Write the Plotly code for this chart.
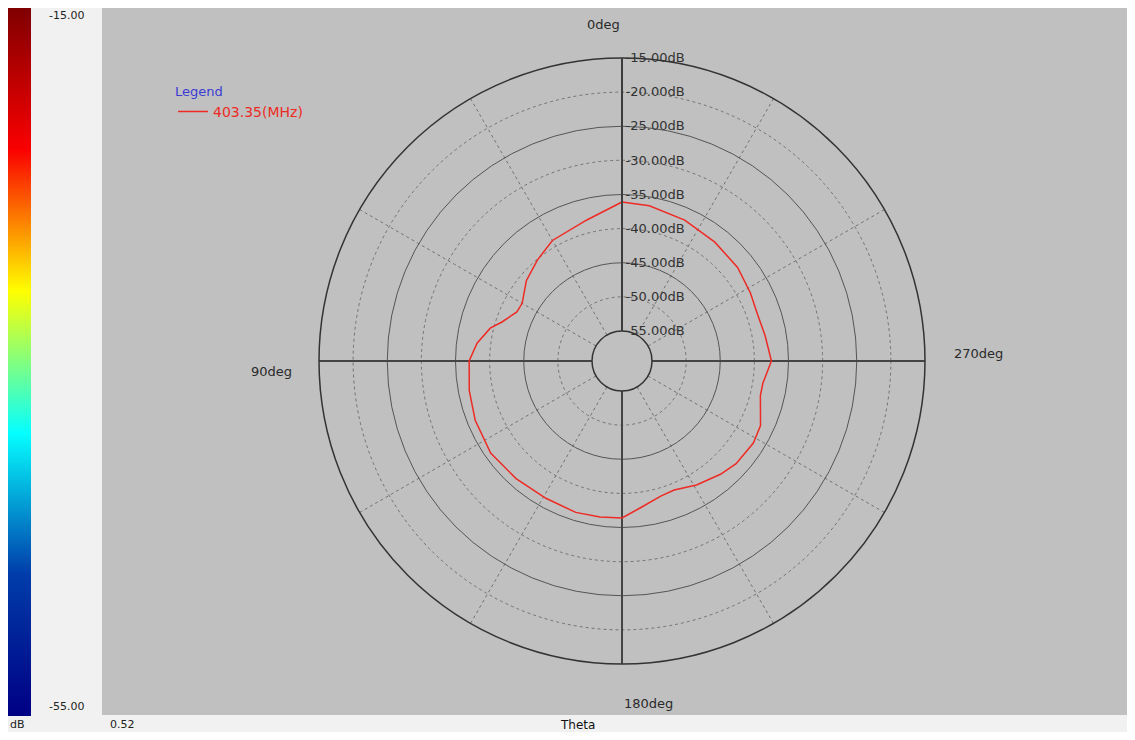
import plotly.graph_objects as go

# ---- data ----
theta_deg = [0, 14, 30, 40, 50, 60, 65, 72, 76, 83, 90, 101, 112, 125, 138, 151, 163, 172,
             180, 187, 196, 202, 211, 221, 228, 238, 245, 256, 261, 270, 280, 289, 298, 309,
             322, 336, 350, 360]
gain_db = [-36.1, -38.1, -39.0, -40.1, -41.1, -42.5, -42.4, -40.9, -39.5, -38.0, -37.0, -36.6,
           -36.2, -35.9, -36.2, -36.4, -36.2, -36.3, -36.4, -37.7, -38.8, -39.0, -38.2, -37.4,
           -36.9, -36.7, -37.0, -38.5, -38.5, -37.5, -38.1, -38.4, -38.1, -37.6, -37.3, -36.8,
           -36.3, -36.1]
series_name = "403.35(MHz)"

radial_ticks = [-15, -20, -25, -30, -35, -40, -45, -50, -55]
radial_labels = ["-15.00dB", "-20.00dB", "-25.00dB", "-30.00dB", "-35.00dB",
                 "-40.00dB", "-45.00dB", "-50.00dB", "-55.00dB"]
solid_rings = [-25, -35, -45, -55]
dashed_rings = [-20, -30, -40, -50]
main_spokes = [0, 90, 180, 270]
minor_spokes = [30, 60, 120, 150, 210, 240, 300, 330]
angle_labels = ["0deg", "90deg", "180deg", "270deg"]
r_range = [-55, -15]
cbar_min, cbar_max = -55, -15
cbar_labels = ["-15.00", "-55.00"]

# page has an 8px body margin; design in window pixels and convert
OFF = 8
W, H = 1127, 724


def px(X):
    return (X - OFF) / W


def py(Y):
    return (H - (Y - OFF)) / H


cx, cy, R = 622, 361, 303
dom_x = [px(cx - R), px(cx + R)]
dom_y = [py(cy + R), py(cy - R)]
hole = 30 / R

FONT = "DejaVu Sans"
GRAY = "#c0c0c0"

fig = go.Figure()

fig.add_trace(go.Scatterpolar(r=[r_range[0]], theta=[0], mode="lines", subplot="polar",
                              showlegend=False, hoverinfo="skip"))
fig.add_trace(go.Scatterpolar(r=[r_range[0]], theta=[0], mode="lines", subplot="polar2",
                              showlegend=False, hoverinfo="skip"))
fig.add_trace(go.Scatterpolar(r=[r_range[0]], theta=[0], mode="markers", subplot="polar3",
                              marker=dict(size=1, opacity=0, color=[cbar_min], coloraxis="coloraxis"),
                              showlegend=False, hoverinfo="skip"))
fig.add_trace(go.Scatterpolar(r=gain_db, theta=theta_deg, mode="lines", subplot="polar3",
                              name=series_name, line=dict(color="#ee2a24", width=1.5)))

common_ang = dict(rotation=90, direction="counterclockwise", showticklabels=False, ticks="")
common_rad = dict(range=r_range, showticklabels=False, ticks="", showline=False)

fig.update_layout(
    width=W, height=H,
    margin=dict(l=0, r=0, t=0, b=0),
    paper_bgcolor="#f1f1f1",
    showlegend=True,
    polar=dict(
        domain=dict(x=dom_x, y=dom_y), hole=hole, bgcolor=GRAY,
        radialaxis=dict(**common_rad, tickvals=dashed_rings, showgrid=True,
                        gridcolor="#737373", gridwidth=1, griddash="3px,3px"),
        angularaxis=dict(**common_ang, tickmode="array", tickvals=minor_spokes, showgrid=True,
                         gridcolor="#737373", gridwidth=1, griddash="3px,3px", showline=False),
    ),
    polar2=dict(
        domain=dict(x=dom_x, y=dom_y), hole=hole, bgcolor="rgba(0,0,0,0)",
        radialaxis=dict(**common_rad, tickvals=solid_rings, showgrid=True,
                        gridcolor="#555555", gridwidth=1),
        angularaxis=dict(**common_ang, showgrid=False, showline=False),
    ),
    polar3=dict(
        domain=dict(x=dom_x, y=dom_y), hole=hole, bgcolor="rgba(0,0,0,0)",
        radialaxis=dict(range=r_range, tickmode="array", tickvals=radial_ticks,
                        ticktext=radial_labels, ticks="", showgrid=False,
                        showline=True, linecolor="#3c3c3c", linewidth=2,
                        angle=90, tickangle=90, side="clockwise",
                        tickfont=dict(family=FONT, size=13, color="#333333")),
        angularaxis=dict(**common_ang, tickmode="array", tickvals=main_spokes, showgrid=True,
                         gridcolor="#444444", gridwidth=1.5, showline=True,
                         linecolor="#333333", linewidth=1.5),
    ),
    coloraxis=dict(
        cmin=cbar_min, cmax=cbar_max, colorscale="Jet",
        colorbar=dict(x=0, xanchor="left", y=1, yanchor="top",
                      len=(716 - OFF) / H, lenmode="fraction", thickness=23,
                      thicknessmode="pixels", xpad=0, ypad=0, outlinewidth=0,
                      showticklabels=False, ticks=""),
    ),
    legend=dict(
        x=px(173), xanchor="left", y=py(79), yanchor="top",
        bgcolor="rgba(0,0,0,0)", borderwidth=0,
        title=dict(text="Legend", font=dict(family=FONT, size=13, color="#3b3bd6")),
        font=dict(family=FONT, size=14, color="#ee2a24"),
        itemwidth=30, tracegroupgap=0,
    ),
    shapes=[
        dict(type="rect", xref="paper", yref="paper", x0=px(102), x1=1, y0=py(715),
             y1=1, fillcolor=GRAY, line=dict(width=0), layer="below"),
    ],
)

ann_font = dict(family=FONT, size=13, color="#2a2a2a")
small = dict(family=FONT, size=11, color="#222")
annots = [
    dict(text=angle_labels[0], x=px(cx), y=py(24), xanchor="right", yanchor="middle"),
    dict(text=angle_labels[1], x=px(294), y=py(371), xanchor="right", yanchor="middle"),
    dict(text=angle_labels[2], x=px(cx), y=py(703), xanchor="left", yanchor="middle"),
    dict(text=angle_labels[3], x=px(952), y=py(354), xanchor="left", yanchor="middle"),
    dict(text=cbar_labels[0], x=px(66), y=py(16), xanchor="center", yanchor="middle", font=small),
    dict(text=cbar_labels[1], x=px(66), y=py(706), xanchor="center", yanchor="middle", font=small),
    dict(text="dB", x=px(17), y=py(724), xanchor="center", yanchor="middle", font=small),
    dict(text="0.52", x=px(122), y=py(724), xanchor="center", yanchor="middle", font=small),
    dict(text="Theta", x=px(577), y=py(725), xanchor="center", yanchor="middle",
         font=dict(family=FONT, size=12, color="#111")),
]
for a in annots:
    a.setdefault("font", ann_font)
    fig.add_annotation(xref="paper", yref="paper", showarrow=False, **a)

fig.write_html("out.html")
